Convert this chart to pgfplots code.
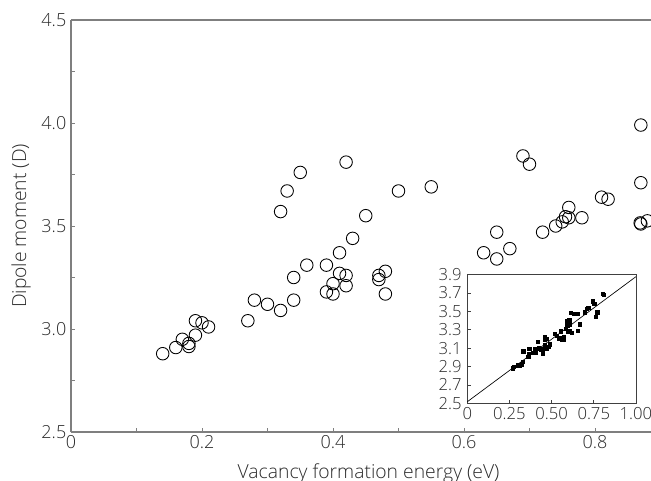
\documentclass[border=0pt]{standalone}
\usepackage{fontspec}
\IfFontExistsTF{Open Sans Light}{\setmainfont{Open Sans Light}}{\setmainfont{Open Sans}}
\usepackage{pgfplots}
\pgfplotsset{compat=1.18}
\definecolor{axgray}{HTML}{7F7F7F}
\definecolor{txtgray}{HTML}{2A2A2A}
\begin{document}
\begin{tikzpicture}
\begin{axis}[name=main, at={(0pt,0pt)}, anchor=south west, scale only axis,
  width=435pt, height=309pt,
  xmin=0, xmax=0.8855, ymin=2.5, ymax=4.5,
  axis lines*=left, axis line style={axgray, line width=0.8pt},
  tick align=inside,
  xtick={0,0.2,0.4,0.6,0.8}, xticklabels={0,0.2,0.4,0.6,0.8},
  minor xtick={0.1,0.3,0.5,0.7},
  ytick={2.5,3,3.5,4,4.5}, yticklabels={2.5,3.0,3.5,4.0,4.5},
  minor ytick={2.75,3.25,3.75,4.25},
  tick style={axgray, line width=0.6pt}, major tick length=3pt, minor tick length=3pt,
  /pgf/number format/assume math mode=true,
  ticklabel style={font=\fontsize{13.5}{14}\selectfont, text=txtgray},
  xticklabel style={yshift=1pt},
  xlabel={Vacancy formation energy (eV)}, ylabel={Dipole moment (D)},
  label style={font=\fontsize{14.5}{15}\selectfont, text=txtgray},
  xlabel style={at={(axis description cs:0.513,-0.0995)}, anchor=center},
  ylabel style={at={(axis description cs:-0.0862,0.5)}, anchor=center, rotate=0},
  clip=true]
\draw[axgray, line width=0.8pt] (rel axis cs:0,1) -- (rel axis cs:1,1);
\addplot[only marks, mark=o, mark size=4.7pt, mark options={black, line width=0.65pt}] coordinates {
(0.14,2.88) (0.16,2.91) (0.17,2.95) (0.18,2.93) (0.18,2.915) (0.19,2.97) (0.19,3.04)
(0.20,3.03) (0.21,3.01) (0.27,3.04) (0.28,3.14) (0.30,3.12) (0.32,3.09) (0.34,3.14)
(0.34,3.25) (0.36,3.31) (0.32,3.57) (0.33,3.67) (0.35,3.76) (0.39,3.31) (0.39,3.18)
(0.40,3.22) (0.40,3.17) (0.41,3.37) (0.41,3.27) (0.42,3.26) (0.42,3.21) (0.42,3.81)
(0.43,3.44) (0.45,3.55) (0.47,3.26) (0.47,3.24) (0.48,3.28) (0.48,3.17) (0.50,3.67)
(0.55,3.69) (0.63,3.37) (0.65,3.47) (0.65,3.34) (0.67,3.39) (0.69,3.84) (0.70,3.80)
(0.72,3.47) (0.74,3.50) (0.75,3.52) (0.755,3.545) (0.76,3.59) (0.76,3.54) (0.78,3.54)
(0.81,3.64) (0.82,3.63) (0.87,3.99) (0.87,3.71) (0.87,3.51) (0.869,3.515) (0.88,3.525)
};
\end{axis}
\begin{axis}[at={(297.2pt,21.5pt)}, anchor=south west, scale only axis,
  width=126.5pt, height=96.5pt,
  xmin=0, xmax=1, ymin=2.5, ymax=3.9,
  axis line style={black!75, line width=0.6pt},
  tick align=inside, xtick pos=bottom, ytick pos=left,
  xtick={0,0.25,0.5,0.75,1}, xticklabels={0,0.25,0.50,0.75,1.00},
  ytick={2.5,2.7,2.9,3.1,3.3,3.5,3.7,3.9}, yticklabels={2.5,2.7,2.9,3.1,3.3,3.5,3.7,3.9},
  tick style={black!75, line width=0.5pt}, major tick length=2.5pt,
  ticklabel style={font=\fontsize{12.5}{13}\selectfont, text=txtgray, inner sep=2.5pt},
  yticklabel style={xshift=-1.5pt},
  clip=true]
\addplot[black, line width=0.5pt, no marks] coordinates {(0,2.517) (1,3.878)};
\addplot[only marks, mark=square*, mark size=1.25pt, mark options={black}] coordinates {
(0.269,2.881) (0.275,2.90) (0.302,2.914) (0.312,2.906) (0.322,2.924) (0.328,2.953)
(0.332,3.066) (0.362,3.008) (0.368,3.095) (0.366,3.037) (0.391,3.051) (0.399,3.095)
(0.407,3.051) (0.417,3.167) (0.423,3.098) (0.437,3.080) (0.447,3.044) (0.451,3.095)
(0.460,3.218) (0.460,3.189) (0.460,3.135) (0.470,3.20) (0.472,3.098) (0.480,3.117)
(0.490,3.142) (0.520,3.258) (0.530,3.233) (0.545,3.207) (0.553,3.283) (0.559,3.189)
(0.569,3.189) (0.573,3.218) (0.585,3.312) (0.589,3.396) (0.589,3.374) (0.593,3.341)
(0.597,3.280) (0.605,3.407) (0.605,3.287) (0.609,3.360) (0.613,3.487) (0.619,3.265)
(0.634,3.472) (0.652,3.472) (0.654,3.287) (0.668,3.360) (0.696,3.490) (0.708,3.527)
(0.717,3.541) (0.743,3.610) (0.753,3.581) (0.761,3.443) (0.771,3.490) (0.802,3.690)
(0.810,3.682)
};
\end{axis}
\pgfresetboundingbox
\path[use as bounding box] (-53.25pt,-36.75pt) rectangle (435pt,324pt);
\end{tikzpicture}
\end{document}
